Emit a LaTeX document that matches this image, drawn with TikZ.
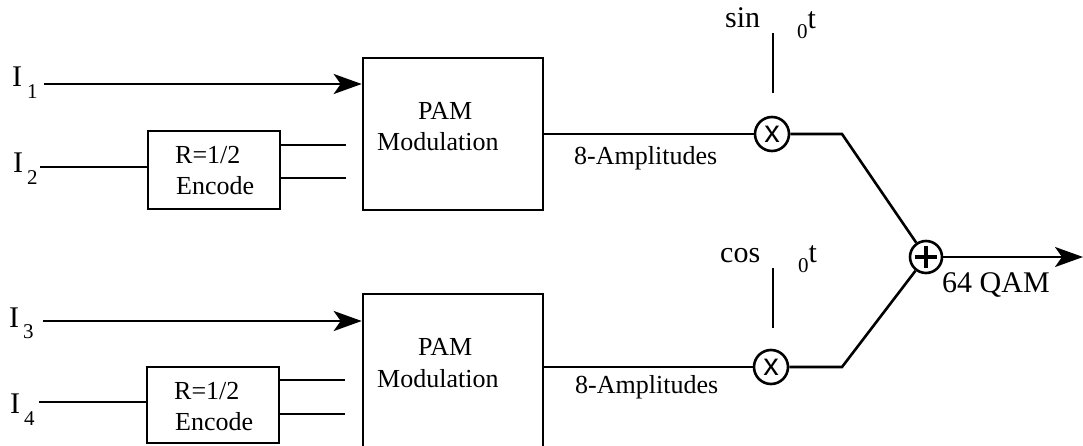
\documentclass[tikz,border=0pt]{standalone}
\usepackage{fontspec}
\setmainfont{Liberation Serif}
\newfontfamily\sansx{Liberation Sans}
\usetikzlibrary{arrows.meta}
\tikzset{
  wire/.style={line width=2.6pt},
  arr/.style={wire, -{Stealth[length=28pt,width=20pt,inset=7pt]}},
  blockbox/.style={draw, line width=2.6pt, inner sep=0pt},
  txtA/.style={inner sep=0pt, font=\fontsize{26}{31}\selectfont, anchor=base west},
  txtB/.style={inner sep=0pt, font=\fontsize{30}{34}\selectfont, anchor=base west},
  mulnode/.style={draw, circle, line width=2.6pt, minimum size=34pt, inner sep=0pt, font=\sansx\fontsize{31}{31}\selectfont},
  sumnode/.style={draw, circle, line width=2.6pt, minimum size=32pt, inner sep=0pt}
}
\newcommand{\subdrop}[2]{\raisebox{-#1}{\fontsize{21}{21}\selectfont #2}}
\begin{document}
\begin{tikzpicture}[x=1pt,y=-1pt]
\useasboundingbox (0,0) rectangle (1083,446);

% blocks
\node[blockbox, minimum width=180pt, minimum height=152pt] (pam1) at (453,134) {};
\node[blockbox, minimum width=180pt, minimum height=156pt] (pam2) at (453,372) {};
\node[blockbox, minimum width=132pt, minimum height=78pt] (enc1) at (214,170) {};
\node[blockbox, minimum width=132pt, minimum height=76pt] (enc2) at (213,405) {};

% block texts
\node[txtA] (pamA1) at (418,120) {PAM};
\node[txtA] (pamB1) at (377,151) {Modulation};
\node[txtA] (pamA2) at (418,355) {PAM};
\node[txtA] (pamB2) at (377,387) {Modulation};
\node[txtA] (encA1) at (175,164) {R=1/2};
\node[txtA] (encB1) at (176,195) {Encode};
\node[txtA] (encA2) at (174,399) {R=1/2};
\node[txtA] (encB2) at (175,430) {Encode};

% input labels
\node[txtB] (in1) at (12,87) {I\kern5pt\subdrop{12pt}{1}};
\node[txtB] (in2) at (13,173) {I\kern4pt\subdrop{12pt}{2}};
\node[txtB] (in3) at (9,327) {I\kern4pt\subdrop{11pt}{3}};
\node[txtB] (in4) at (10,413) {I\kern4pt\subdrop{12pt}{4}};

% input wires
\coordinate (s1) at (44,84);
\coordinate (s2) at (40,167);
\coordinate (s3) at (43,321);
\coordinate (s4) at (39,402);
\draw[arr] (s1) -- (s1 -| pam1.west);
\draw[wire] (s2) -- (s2 -| enc1.west);
\draw[arr] (s3) -- (s3 -| pam2.west);
\draw[wire] (s4) -- (s4 -| enc2.west);

% encoder outputs
\coordinate (e1a) at (346,145);
\coordinate (e1b) at (346,178);
\coordinate (e2a) at (345,380);
\coordinate (e2b) at (345,414);
\draw[wire] (e1a -| enc1.east) -- (e1a);
\draw[wire] (e1b -| enc1.east) -- (e1b);
\draw[wire] (e2a -| enc2.east) -- (e2a);
\draw[wire] (e2b -| enc2.east) -- (e2b);

% multipliers
\node[mulnode] (mul1) at (772,134) {x};
\node[mulnode] (mul2) at (771,367) {x};
\draw[wire] (pam1.east |- mul1) -- (mul1.west);
\draw[wire] (pam2.east |- mul2) -- (mul2.west);
\node[txtA] (amp1) at (574,165) {8-Amplitudes};
\node[txtA] (amp2) at (575,393) {8-Amplitudes};

% carriers
\coordinate (c1a) at (773,33);
\coordinate (c1b) at (773,93);
\coordinate (c2a) at (773,268);
\coordinate (c2b) at (773,328);
\draw[wire] (c1a) -- (c1b);
\draw[wire] (c2a) -- (c2b);
\node[txtB] (sinl) at (725,28) {sin};
\node[txtB] (sint) at (797,29) {\subdrop{10pt}{0}t};
\node[txtB] (cosl) at (720,262) {cos};
\node[txtB] (cost) at (798,262) {\subdrop{10pt}{0}t};

% summer
\node[sumnode] (sum) at (926,257) {};
\draw[line width=3.4pt] ([xshift=-11pt]sum.center) -- ([xshift=11pt]sum.center);
\draw[line width=3.4pt] ([yshift=-11pt]sum.center) -- ([yshift=11pt]sum.center);
\coordinate (k1) at (842,134);
\coordinate (k2) at (842,367);
\draw[wire] (mul1.east) -- (k1) -- (sum);
\draw[wire] (mul2.east) -- (k2) -- (sum);
\coordinate (out) at (1083,257);
\draw[arr] (sum.east) -- (out);
\node[txtB] (qam) at (942,292) {64 QAM};
\end{tikzpicture}
\end{document}
